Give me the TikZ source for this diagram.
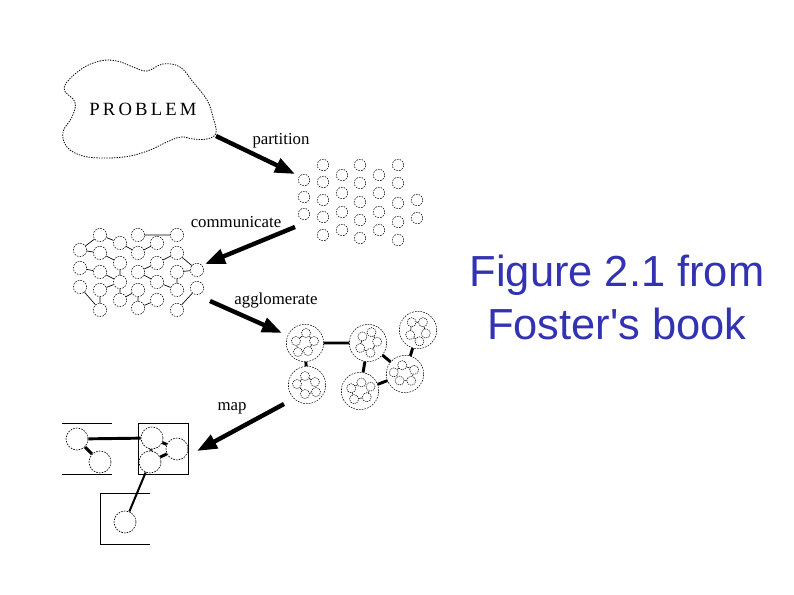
\documentclass[tikz,border=0pt]{standalone}
\usepackage{fontspec}
\setmainfont{Liberation Serif}
\newfontfamily\sansf[Ligatures=TeXOff]{Liberation Sans}
\newfontfamily\spacedf[LetterSpace=17]{Liberation Serif}
\usetikzlibrary{arrows.meta}
\definecolor{titleblue}{RGB}{51,51,178}
\begin{document}
\begin{tikzpicture}[x=0.75pt,y=-0.75pt,
  dcirc/.style={circle,draw,dash pattern=on 1.2pt off 0.9pt,line width=0.4pt,inner sep=0pt},
  gcirc/.style={dcirc,minimum size=8.6pt},
  ncirc/.style={dcirc,minimum size=10pt},
  bigc/.style={dcirc,minimum size=28pt},
  smc/.style={dcirc,minimum size=6.8pt,dash pattern=on 0.9pt off 0.7pt,line width=0.4pt},
  mcirc/.style={dcirc,minimum size=16.5pt,line width=0.5pt},
  bigarrow/.style={line width=3.3pt,-{Triangle[length=15pt,width=11pt]}},
  thinedge/.style={line width=0.5pt},
  thickedge/.style={line width=2.2pt},
  lbl/.style={font=\fontsize{12.6}{14}\selectfont,inner sep=0pt},
]
\useasboundingbox (0,0) rectangle (794,595);

% ---- problem cloud
\draw[dash pattern=on 1pt off 0.9pt,line width=0.6pt] plot[smooth cycle,tension=0.65] coordinates {
 (80,70) (100,61) (117,61) (133,67) (147,71) (163,64) (180,67) (193,82) (207,100)
 (213,117) (216,133) (207,139) (193,139) (181,137) (167,142) (150,150) (130,156)
 (107,158) (83,156) (67,147) (63,132) (72,117) (75,102) (64,88)};
\node[font=\spacedf\fontsize{14}{16}\selectfont,inner sep=0pt] (problem) at (143,109) {PROBLEM};

% ---- partition grid
\foreach \y [count=\k] in {180,197,214} \node[gcirc] (gA\k) at (304,\y) {};
\foreach \y [count=\k] in {165,182,200,217,235} \node[gcirc] (gB\k) at (323,\y) {};
\foreach \y [count=\k] in {175,193,212,230} \node[gcirc] (gC\k) at (342,\y) {};
\foreach \y [count=\k] in {165,183,202,220,238} \node[gcirc] (gD\k) at (360,\y) {};
\foreach \y [count=\k] in {175,193,212,230} \node[gcirc] (gE\k) at (379,\y) {};
\foreach \y [count=\k] in {165,183,203,222,240} \node[gcirc] (gF\k) at (398,\y) {};
\foreach \y [count=\k] in {200,218} \node[gcirc] (gG\k) at (417,\y) {};

% ---- communication graph
\foreach \y [count=\k] in {250,268,287} \node[ncirc] (a\k) at (80,\y) {};
\foreach \y [count=\k] in {235,253,272,290,310} \node[ncirc] (b\k) at (100,\y) {};
\foreach \y [count=\k] in {243,263,282,300} \node[ncirc] (c\k) at (120,\y) {};
\foreach \y [count=\k] in {235,253,272,290,308} \node[ncirc] (d\k) at (138,\y) {};
\foreach \y [count=\k] in {243,263,282,300} \node[ncirc] (e\k) at (157,\y) {};
\foreach \y [count=\k] in {235,253,272,290,310} \node[ncirc] (f\k) at (177,\y) {};
\foreach \y [count=\k] in {270,288} \node[ncirc] (h\k) at (197,\y) {};
\draw[thinedge] (b1)--(a1) (b1)--(c1) (c1)--(d2) (d1)--(f1) (e1)--(d2) (a1)--(b2)
  (b2)--(c2) (c2)--(c3) (b3)--(c3) (c3)--(b4) (c3)--(c4) (d3)--(e2) (e2)--(f2)
  (f2)--(h1) (f3)--(f4) (b4)--(b5) (d4)--(d5) (a3)--(b5) (h2)--(f5) (e3)--(d3)
  (e3)--(f4) (a2)--(b3) (c4)--(d4) (e4)--(d5) (h1)--(f3);

% ---- agglomerated clusters
\foreach \cx/\cy/\ang/\i in {305/343/0/1, 307/385/90/2, 368/343/200/3, 418/330/45/4, 405/374/300/5, 360/391/150/6}{
  \node[bigc] (K\i) at (\cx,\cy) {};
  \begin{scope}[shift={(\cx,\cy)},rotate=\ang]
    \node[smc] (k\i p1) at (-9,-2) {};
    \node[smc] (k\i p2) at (1,-10) {};
    \node[smc] (k\i p3) at (9,-2) {};
    \node[smc] (k\i p4) at (3,8) {};
    \node[smc] (k\i p5) at (-7,9) {};
  \end{scope}
  \draw[line width=0.45pt] (k\i p1)--(k\i p2) (k\i p2)--(k\i p3) (k\i p3)--(k\i p4)
    (k\i p1)--(k\i p5);
}
\draw[thickedge] (K1)--(K3) (K1)--(K2) (K3)--(K6) (K3)--(K5) (K4)--(K5) (K6)--(K5);

% ---- mapped processors
\draw[line width=0.6pt] (62,423)--(112,423) (62,474)--(112,474);
\draw[line width=0.6pt] (138,423) rectangle (188,474);
\draw[line width=0.6pt] (150,493)--(100,493)--(100,544)--(150,544);
\node[mcirc] (m1) at (77,439) {};
\node[mcirc] (m2) at (100,462) {};
\node[mcirc] (m3) at (152,438) {};
\node[mcirc] (m4) at (177,449) {};
\node[mcirc] (m5) at (150,462) {};
\node[mcirc] (m6) at (125,522) {};
\draw[thickedge] (m1)--(m3) (m1)--(m2) (m3)--(m4) (m3)--(m5) (m5)--(m4);
\draw[line width=1.5pt] (m5)--(m6);

% ---- arrows and labels
\coordinate (pS) at (216,136); \coordinate (pE) at (295,174);
\coordinate (cS) at (295,227); \coordinate (cE) at (205,264);
\coordinate (aS) at (210,301); \coordinate (aE) at (282,333);
\coordinate (mS) at (284,404); \coordinate (mE) at (197,451);
\draw[bigarrow] (pS)--(pE);
\draw[bigarrow] (cS)--(cE);
\draw[bigarrow] (aS)--(aE);
\draw[bigarrow] (mS)--(mE);
\node[lbl] (lp) at (281,141) {partition};
\node[lbl] (lc) at (236,222) {communicate};
\node[lbl] (la) at (276,300) {agglomerate};
\node[lbl] (lm) at (232,408) {map};

% ---- title
\node[font=\sansf\fontsize{32.6}{38}\selectfont,text=titleblue,anchor=base,inner sep=0pt] (t1) at (617,287) {Figure 2.1 from};
\node[font=\sansf\fontsize{32.6}{38}\selectfont,text=titleblue,anchor=base,inner sep=0pt] (t2) at (617,340) {Foster's book};
\end{tikzpicture}
\end{document}
